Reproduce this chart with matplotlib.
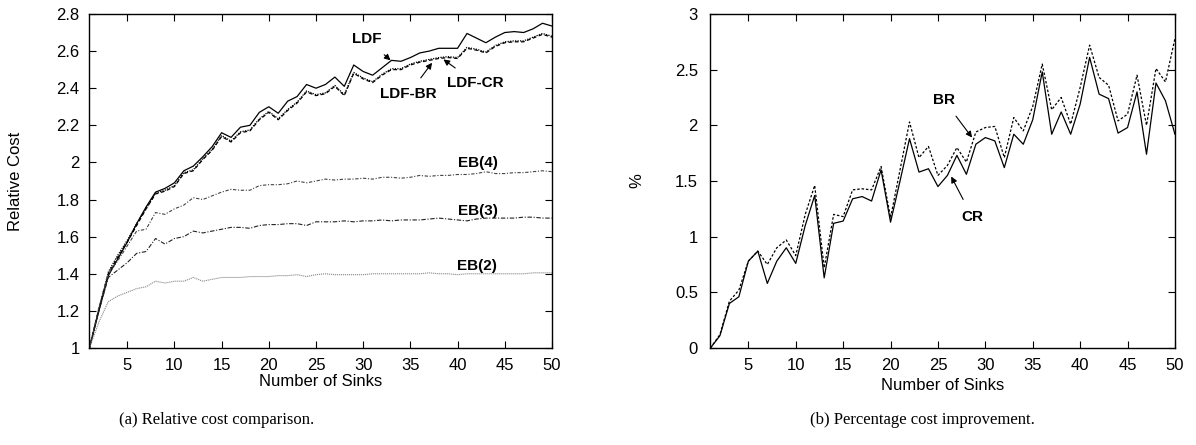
"""Relative cost comparison and percentage cost improvement vs number of sinks."""
import numpy as np
import matplotlib
matplotlib.use('Agg')
import matplotlib.pyplot as plt

plt.rcParams['font.family'] = ['Liberation Sans', 'DejaVu Sans']

sinks = np.arange(1, 51)

# (a) relative cost
ldf = [1.00, 1.20, 1.39, 1.48, 1.57, 1.67, 1.76, 1.84, 1.86, 1.89,
       1.955, 1.98, 2.03, 2.085, 2.16, 2.135, 2.19, 2.20, 2.27, 2.30,
       2.265, 2.33, 2.355, 2.42, 2.40, 2.42, 2.46, 2.41, 2.525, 2.49,
       2.47, 2.51, 2.55, 2.545, 2.565, 2.59, 2.60, 2.615, 2.615, 2.615,
       2.695, 2.67, 2.645, 2.675, 2.70, 2.705, 2.70, 2.72, 2.75, 2.735]
ldf_br = [1.00, 1.21, 1.41, 1.50, 1.58, 1.67, 1.75, 1.835, 1.85, 1.875,
          1.945, 1.96, 2.02, 2.07, 2.145, 2.115, 2.165, 2.175, 2.235, 2.275,
          2.235, 2.285, 2.325, 2.385, 2.365, 2.375, 2.415, 2.365, 2.485, 2.455,
          2.435, 2.475, 2.505, 2.505, 2.53, 2.545, 2.555, 2.565, 2.57, 2.565,
          2.62, 2.61, 2.595, 2.63, 2.65, 2.655, 2.655, 2.675, 2.695, 2.68]
ldf_cr = [1.00, 1.21, 1.40, 1.49, 1.57, 1.66, 1.75, 1.83, 1.845, 1.87,
          1.94, 1.955, 2.015, 2.065, 2.14, 2.11, 2.16, 2.17, 2.23, 2.27,
          2.23, 2.28, 2.32, 2.38, 2.36, 2.37, 2.41, 2.36, 2.48, 2.45,
          2.43, 2.47, 2.50, 2.50, 2.525, 2.54, 2.55, 2.56, 2.565, 2.56,
          2.615, 2.605, 2.59, 2.625, 2.645, 2.65, 2.65, 2.67, 2.69, 2.675]
eb4 = [1.00, 1.22, 1.40, 1.47, 1.55, 1.63, 1.64, 1.73, 1.72, 1.75,
       1.77, 1.81, 1.80, 1.82, 1.84, 1.855, 1.85, 1.85, 1.875, 1.88,
       1.88, 1.885, 1.90, 1.89, 1.90, 1.91, 1.905, 1.91, 1.91, 1.915,
       1.91, 1.92, 1.92, 1.915, 1.92, 1.93, 1.925, 1.93, 1.93, 1.935,
       1.935, 1.94, 1.95, 1.94, 1.94, 1.945, 1.945, 1.95, 1.955, 1.95]
eb3 = [1.00, 1.20, 1.38, 1.42, 1.46, 1.51, 1.52, 1.59, 1.56, 1.59,
       1.60, 1.63, 1.62, 1.63, 1.64, 1.65, 1.65, 1.645, 1.66, 1.665,
       1.665, 1.67, 1.67, 1.66, 1.68, 1.68, 1.68, 1.685, 1.68, 1.685,
       1.685, 1.69, 1.685, 1.69, 1.69, 1.69, 1.695, 1.70, 1.695, 1.69,
       1.685, 1.695, 1.70, 1.70, 1.70, 1.70, 1.705, 1.705, 1.70, 1.70]
eb2 = [1.00, 1.14, 1.25, 1.28, 1.30, 1.32, 1.33, 1.36, 1.35, 1.36,
       1.36, 1.38, 1.36, 1.37, 1.38, 1.38, 1.38, 1.385, 1.385, 1.385,
       1.39, 1.39, 1.395, 1.385, 1.395, 1.40, 1.395, 1.395, 1.395, 1.395,
       1.40, 1.40, 1.40, 1.40, 1.40, 1.40, 1.405, 1.40, 1.40, 1.395,
       1.40, 1.40, 1.40, 1.40, 1.40, 1.40, 1.40, 1.405, 1.405, 1.405]

# (b) percentage improvement
cr = [0.00, 0.11, 0.40, 0.46, 0.78, 0.87, 0.58, 0.78, 0.90, 0.76,
      1.10, 1.37, 0.63, 1.12, 1.14, 1.34, 1.36, 1.32, 1.60, 1.13,
      1.50, 1.88, 1.58, 1.61, 1.45, 1.55, 1.73, 1.56, 1.83, 1.89,
      1.86, 1.62, 1.92, 1.83, 2.05, 2.48, 1.92, 2.12, 1.92, 2.19,
      2.61, 2.28, 2.24, 1.93, 1.98, 2.30, 1.74, 2.38, 2.22, 1.92]
br = [0.00, 0.12, 0.42, 0.52, 0.78, 0.87, 0.75, 0.90, 0.97, 0.83,
      1.20, 1.46, 0.72, 1.20, 1.18, 1.42, 1.43, 1.42, 1.63, 1.17,
      1.60, 2.03, 1.71, 1.81, 1.55, 1.64, 1.80, 1.67, 1.94, 1.98,
      1.99, 1.71, 2.07, 1.95, 2.17, 2.55, 2.14, 2.25, 2.01, 2.34,
      2.72, 2.43, 2.36, 2.04, 2.10, 2.45, 2.00, 2.51, 2.39, 2.78]


def style_axes(ax, ypad):
    ax.tick_params(direction='in', top=True, right=True, length=5,
                   width=0.8, labelsize=12)
    ax.tick_params(axis='x', pad=7)
    ax.tick_params(axis='y', pad=ypad)
    for s in ax.spines.values():
        s.set_linewidth(1.0)


def label(ax, text, xy, xytext):
    ax.annotate(text, xy=xy, xytext=xytext, ha='center', va='center',
                fontsize=11, fontweight='bold',
                arrowprops=dict(arrowstyle='-|>', color='black', lw=0.8,
                                mutation_scale=9, shrinkA=6, shrinkB=0))


def main():
    fig = plt.figure(figsize=(11.96, 4.45), dpi=100)
    ax1 = fig.add_axes([0.0748, 0.218, 0.3867, 0.7506])
    ax2 = fig.add_axes([0.594, 0.218, 0.3884, 0.7506])

    # Relative cost
    ax1.plot(sinks, ldf, color='black', lw=0.9)
    ax1.plot(sinks, ldf_br, color='black', lw=0.9, ls=(0, (1, 1)))
    ax1.plot(sinks, ldf_cr, color='black', lw=0.9, ls=(0, (3, 2)))
    ax1.plot(sinks, eb4, color='#444444', lw=0.8, ls=(0, (3, 1.5, 1, 1.5)))
    ax1.plot(sinks, eb3, color='#222222', lw=0.8, ls=(0, (4, 1.5, 1, 1.5)))
    ax1.plot(sinks, eb2, color='#888888', lw=0.8, ls=(0, (1, 0.8)))
    ax1.set_xlim(1, 50)
    ax1.set_ylim(1, 2.8)
    ax1.set_xticks(np.arange(5, 51, 5))
    ax1.set_yticks(np.arange(1, 2.81, 0.2))
    ax1.set_yticklabels(['1', '1.2', '1.4', '1.6', '1.8', '2', '2.2', '2.4', '2.6', '2.8'])
    ax1.set_xlabel('Number of Sinks', fontsize=12, labelpad=1)
    ax1.set_ylabel('Relative Cost', fontsize=12, labelpad=24)
    style_axes(ax1, 7)

    label(ax1, 'LDF', (32.9, 2.55), (30.4, 2.663))
    label(ax1, 'LDF-BR', (37.3, 2.537), (34.8, 2.367))
    label(ax1, 'LDF-CR', (38.5, 2.555), (41.9, 2.43))
    ax1.text(42.2, 1.995, 'EB(4)', ha='center', va='center', fontsize=11, fontweight='bold')
    ax1.text(42.2, 1.74, 'EB(3)', ha='center', va='center', fontsize=11, fontweight='bold')
    ax1.text(42.1, 1.44, 'EB(2)', ha='center', va='center', fontsize=11, fontweight='bold')

    # Percentage improvement
    ax2.plot(sinks, cr, color='black', lw=0.9)
    ax2.plot(sinks, br, color='black', lw=0.9, ls=(0, (2, 1.5)))
    ax2.set_xlim(1, 50)
    ax2.set_ylim(0, 3)
    ax2.set_xticks(np.arange(5, 51, 5))
    ax2.set_yticks(np.arange(0, 3.01, 0.5))
    ax2.set_yticklabels(['0', '0.5', '1', '1.5', '2', '2.5', '3'])
    ax2.set_xlabel('Number of Sinks', fontsize=12, labelpad=4)
    ax2.set_ylabel('%', fontsize=12, labelpad=22)
    style_axes(ax2, 9)

    label(ax2, 'BR', (28.6, 1.89), (25.6, 2.23))
    label(ax2, 'CR', (26.4, 1.54), (28.6, 1.18))

    fig.text(0.181, 0.056, '(a) Relative cost comparison.', ha='center', va='center',
             fontsize=12, family=['Liberation Serif', 'DejaVu Serif'])
    fig.text(0.771, 0.056, '(b) Percentage cost improvement.', ha='center', va='center',
             fontsize=12, family=['Liberation Serif', 'DejaVu Serif'])

    fig.savefig('out.png', dpi=100)


if __name__ == "__main__":
    main()
